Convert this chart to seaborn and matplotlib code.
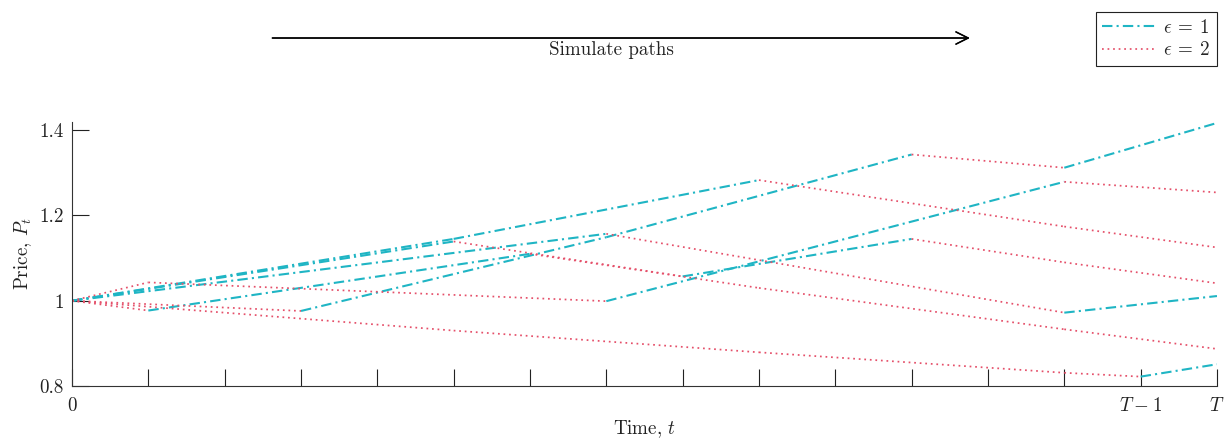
import pandas as pd
import matplotlib.pyplot as plt
import seaborn as sns
from matplotlib.lines import Line2D

# Simulated price paths: knot times, prices at the knots, regime of each segment
path_a_t = [0, 1, 7, 13, 15]
path_a_p = [1.0, 1.043, 0.999, 1.279, 1.254]
path_a_eps = [2, 2, 1, 2]

path_b_t = [0, 5, 8, 11, 13, 15]
path_b_p = [1.0, 1.139, 1.057, 1.145, 1.090, 1.041]
path_b_eps = [1, 2, 1, 2, 2]

path_c_t = [0, 5, 9, 13, 15]
path_c_p = [1.0, 1.145, 1.283, 1.174, 1.125]
path_c_eps = [1, 1, 2, 2]

path_d_t = [0, 7, 13, 15]
path_d_p = [1.0, 1.157, 0.972, 1.011]
path_d_eps = [1, 2, 1]

path_e_t = [0, 1, 6, 9, 13, 15]
path_e_p = [1.0, 0.977, 1.110, 1.030, 0.933, 0.887]
path_e_eps = [2, 1, 2, 2, 2]

path_f_t = [0, 5, 9, 13, 14, 15]
path_f_p = [1.0, 0.930, 0.879, 0.831, 0.822, 0.851]
path_f_eps = [2, 2, 2, 2, 1]

path_g_t = [0, 3, 7, 11, 13, 15]
path_g_p = [1.0, 0.976, 1.149, 1.343, 1.312, 1.417]
path_g_eps = [2, 1, 1, 2, 1]

x_tick_labels = ['0'] + [''] * 13 + [r'$T\:-\:1$', '$T$']
y_ticks = [0.8, 1.0, 1.2, 1.4]
y_tick_labels = ['0.8', '1', '1.2', '1.4']
regime_names = {1: r'$\epsilon\:=\:1$', 2: r'$\epsilon\:=\:2$'}

paths = [
    (path_a_t, path_a_p, path_a_eps),
    (path_b_t, path_b_p, path_b_eps),
    (path_c_t, path_c_p, path_c_eps),
    (path_d_t, path_d_p, path_d_eps),
    (path_e_t, path_e_p, path_e_eps),
    (path_f_t, path_f_p, path_f_eps),
    (path_g_t, path_g_p, path_g_eps),
]

# one row per segment end point
rows = []
seg = 0
for ts, ps, eps in paths:
    for i, e in enumerate(eps):
        rows.append({'t': ts[i], 'price': ps[i], 'seg': seg, 'regime': regime_names[e]})
        rows.append({'t': ts[i + 1], 'price': ps[i + 1], 'seg': seg, 'regime': regime_names[e]})
        seg += 1
df = pd.DataFrame(rows)

sns.set_theme(style='ticks')
plt.rcParams['font.family'] = 'serif'
plt.rcParams['font.serif'] = ['cmr10', 'DejaVu Serif']
plt.rcParams['mathtext.fontset'] = 'cm'
plt.rcParams['axes.unicode_minus'] = False

cyan = '#1fb5c4'
red = '#e5506a'
fs = 13.7

fig = plt.figure(figsize=(12.31, 4.42), dpi=100)
ax = fig.add_axes([0.0585, 0.1267, 0.9301, 0.598])

order = [regime_names[1], regime_names[2]]
sns.lineplot(data=df, x='t', y='price', units='seg', estimator=None,
             hue='regime', style='regime', size='regime',
             hue_order=order, style_order=order, size_order=order,
             palette={order[0]: cyan, order[1]: red},
             dashes={order[0]: (5, 2, 1, 2), order[1]: (1, 2.2)},
             sizes={order[0]: 1.5, order[1]: 1.25},
             ax=ax, legend=False)

ax.set_xlim(0, 15)
ax.set_ylim(0.8, 1.42)
ax.set_xticks(range(16))
ax.set_xticklabels(x_tick_labels, fontsize=fs)
ax.set_yticks(y_ticks)
ax.set_yticklabels(y_tick_labels, fontsize=fs)
ax.tick_params(direction='in', length=12, width=0.8, colors='#222222', pad=6)
ax.tick_params(axis='x', pad=8)
ax.set_xlabel('Time, $t$', fontsize=fs, color='#222222', labelpad=2)
ax.set_ylabel('Price, $P_t$', fontsize=fs, color='#222222', labelpad=4)
sns.despine(ax=ax)
for s in ['left', 'bottom']:
    ax.spines[s].set_linewidth(0.8)
    ax.spines[s].set_color('#333333')

# arrow and caption above the plot
fig.add_artist(plt.annotate('', xy=(0.790, 0.914), xytext=(0.219, 0.914),
                            xycoords='figure fraction', textcoords='figure fraction',
                            arrowprops=dict(arrowstyle='->', color='black', lw=1.0,
                                            mutation_scale=22)))
fig.text(0.497, 0.887, 'Simulate paths', ha='center', va='center', fontsize=fs, color='#222222')

handles = [Line2D([], [], color=cyan, lw=1.5, dashes=(5, 2, 1, 2)),
           Line2D([], [], color=red, lw=1.25, dashes=(1, 2.2))]
leg = fig.legend(handles, order, loc='upper right', bbox_to_anchor=(0.9886, 0.973),
                 borderaxespad=0, fontsize=fs, fancybox=False, framealpha=1,
                 edgecolor='#222222', handlelength=2.9, handletextpad=0.3,
                 borderpad=0.35, labelspacing=0.25)
leg.get_frame().set_linewidth(0.8)

fig.savefig('out.png', dpi=100)
